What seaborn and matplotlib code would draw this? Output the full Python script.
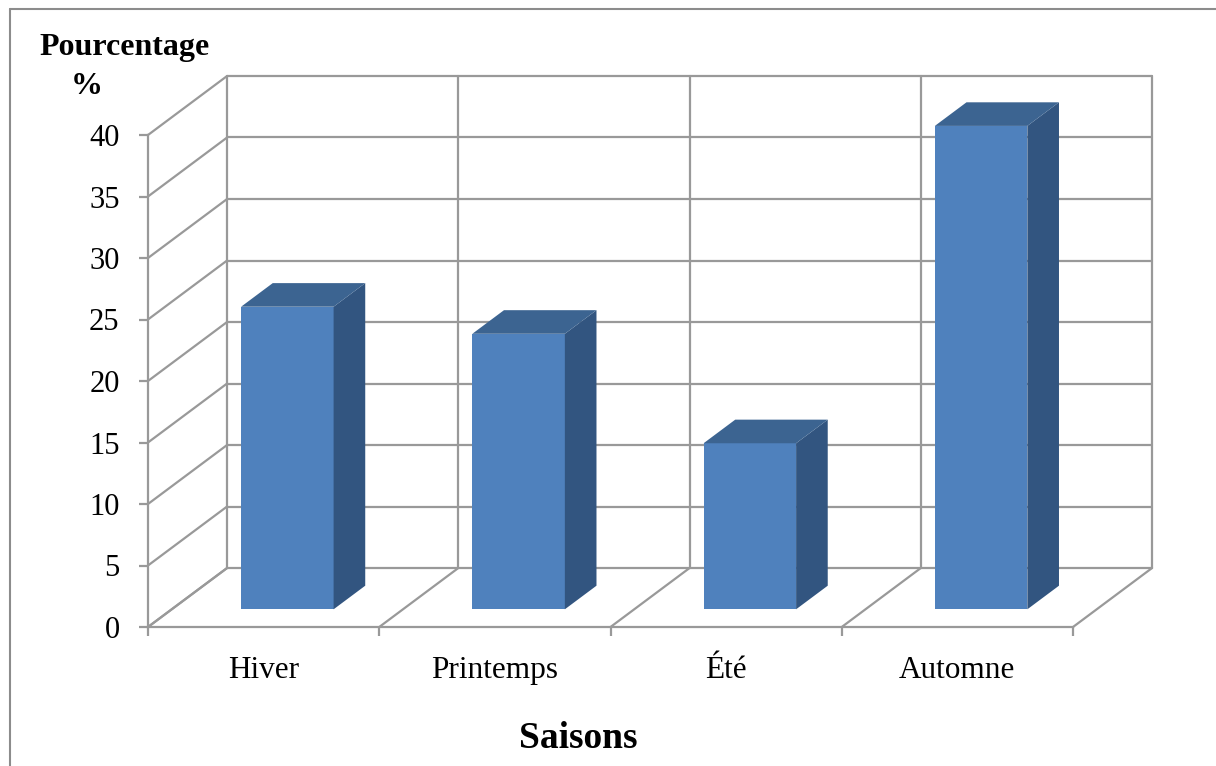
import matplotlib
matplotlib.use("Agg")
import matplotlib.pyplot as plt
from matplotlib.transforms import Affine2D
from matplotlib.lines import Line2D
import seaborn as sns
import pandas as pd

# Data
seasons = ["Hiver", "Printemps", "Été", "Automne"]
percentages = [24.6, 22.4, 13.5, 39.3]
y_ticks = [0, 5, 10, 15, 20, 25, 30, 35, 40]

sns.set_style("white")
plt.rcParams["font.family"] = ["Liberation Serif", "DejaVu Serif"]
plt.rcParams["text.color"] = "black"
plt.rcParams["xtick.labelcolor"] = "black"
plt.rcParams["ytick.labelcolor"] = "black"

W, H = 1216, 766
fig = plt.figure(figsize=(W / 100, H / 100), dpi=100)

# Front plane of the 3D box, in pixels
x_left, x_right, y_zero, y_top = 148, 1073, 627, 135
ax = fig.add_axes([x_left / W, (H - y_zero) / H,
                   (x_right - x_left) / W, (y_zero - y_top) / H])

# Oblique depth of the box, in data units
DX = 79 / 231.0      # category units
DY = 59 / 12.3       # value units
BAR_D0, BAR_D1 = 0.30, 0.70   # bar depth span inside the box

df = pd.DataFrame({"Saison": seasons, "Pourcentage": percentages})
sns.barplot(data=df, x="Saison", y="Pourcentage", ax=ax, width=0.4,
            color="#4F81BD", saturation=1, edgecolor="none", zorder=5)

ax.set_xlim(-0.5, len(seasons) - 0.5)
ax.set_ylim(0, 40)

grid_c = "#999999"
lw = 1.6
n = len(seasons)

# Back wall, side wall and floor grid
for v in y_ticks:
    ax.plot([-0.5 + DX, n - 0.5 + DX], [v + DY, v + DY], color=grid_c, lw=lw,
            clip_on=False, zorder=1)
    ax.plot([-0.5, -0.5 + DX], [v, v + DY], color=grid_c, lw=lw,
            clip_on=False, zorder=1)
for k in range(n + 1):
    xb = -0.5 + k + DX
    ax.plot([xb, xb], [DY, 40 + DY], color=grid_c, lw=lw, clip_on=False, zorder=1)
    ax.plot([-0.5 + k, xb], [0, DY], color=grid_c, lw=lw, clip_on=False, zorder=1)

# Extrude the bars: front face pushed back, plus top and side faces
ox0, oy0 = BAR_D0 * DX, BAR_D0 * DY
bdx, bdy = (BAR_D1 - BAR_D0) * DX, (BAR_D1 - BAR_D0) * DY
shift = Affine2D().translate(ox0, oy0)
for p in ax.patches:
    x0 = p.get_x()
    w = p.get_width()
    h = p.get_height()
    p.set_transform(shift + ax.transData)
    p.set_clip_on(False)
    xa, xb = x0 + ox0, x0 + w + ox0
    yb, yt = oy0, oy0 + h
    ax.fill([xb, xb + bdx, xb + bdx, xb], [yb, yb + bdy, yt + bdy, yt],
            color="#325580", lw=0, clip_on=False, zorder=5)
    ax.fill([xa, xb, xb + bdx, xa + bdx], [yt, yt, yt + bdy, yt + bdy],
            color="#3C6491", lw=0, clip_on=False, zorder=5)

# Axes styling
for s in ["top", "right"]:
    ax.spines[s].set_visible(False)
for s in ["left", "bottom"]:
    ax.spines[s].set_color(grid_c)
    ax.spines[s].set_linewidth(lw)
    ax.spines[s].set_zorder(2)

ax.set_yticks(y_ticks)
ax.set_yticklabels([str(t) for t in y_ticks])
ax.tick_params(axis="y", direction="out", length=6.5, width=lw, color=grid_c,
               pad=14, labelsize=22, left=True, labelcolor="black")
ax.set_xticks(range(n))
ax.set_xticklabels(seasons)
ax.set_xticks([k - 0.5 for k in range(n + 1)], minor=True)
ax.tick_params(axis="x", which="major", length=0, pad=21, labelsize=22.5,
               labelcolor="black")
ax.tick_params(axis="x", which="minor", direction="out", length=6.5, width=lw,
               color=grid_c, bottom=True)
ax.set_xlabel("")
ax.set_ylabel("")
ax.patch.set_alpha(0)

# Titles
fig.text(125 / W, 1 - 48 / H, "Pourcentage", ha="center", va="center",
         fontsize=23, fontweight="bold", color="black")
fig.text(87 / W, 1 - 86 / H, "%", ha="center", va="center",
         fontsize=23, fontweight="bold", color="black")
fig.text(578 / W, 1 - 738 / H, "Saisons", ha="center", va="center",
         fontsize=27, fontweight="bold", color="black")

# Chart area frame (top and left edges)
fig.add_artist(Line2D([10 / W, 1], [1 - 9 / H, 1 - 9 / H], color="#8c8c8c",
                      lw=1.5, transform=fig.transFigure))
fig.add_artist(Line2D([10 / W, 10 / W], [0, 1 - 9 / H], color="#8c8c8c",
                      lw=1.5, transform=fig.transFigure))

fig.savefig("out.png", dpi=100, facecolor="white")
